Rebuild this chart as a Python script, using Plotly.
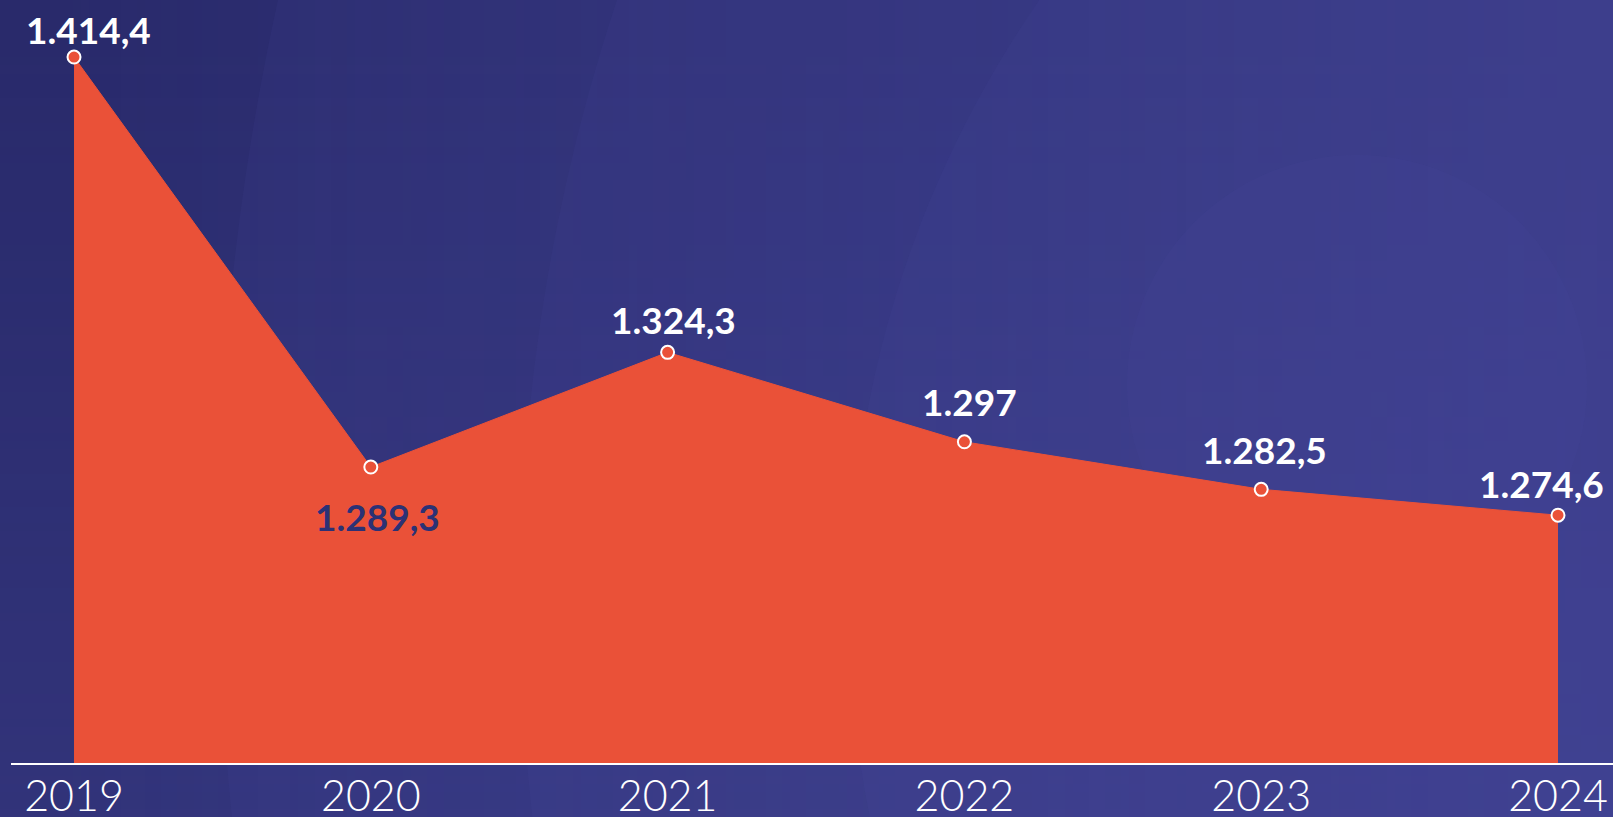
import plotly.graph_objects as go

# ---- data ----
years = [2019, 2020, 2021, 2022, 2023, 2024]
values = [1414.4, 1289.3, 1324.3, 1297.0, 1282.5, 1274.6]
value_labels = ["1.414,4", "1.289,3", "1.324,3", "1.297", "1.282,5", "1.274,6"]
year_labels = ["2019", "2020", "2021", "2022", "2023", "2024"]

# ---- style ----
W, H = 1613, 817
ML, MR, MT, MB = 11, 0, 0, 54
PW, PH = W - ML - MR, H - MT - MB
RED = "#EA5138"
NAVY_TXT = "#2B3175"

# label offsets (pixels): (xshift, yshift)
label_offsets = [(14, 28), (7, -49), (6, 33), (5, 40), (3, 40), (-17, 32)]
label_colors = ["white", NAVY_TXT, "white", "white", "white", "white"]


def px2paper(px, py):
    return (px - ML) / PW, (MT + PH - py) / PH


LIGHT = "74,77,162"
shapes = []
# vertical gradient: disjoint bands on whole-pixel boundaries
nb = 100
for i in range(nb):
    ya = round(i * H / nb)
    yb = round((i + 1) * H / nb)
    a = 0.28 * (i + 0.5) / nb
    if a < 0.02:
        continue
    x0, y0 = px2paper(0, yb)
    x1, y1 = px2paper(W, ya)
    shapes.append(dict(type="rect", xref="paper", yref="paper", x0=x0, x1=x1, y0=y0, y1=y1,
                       fillcolor=f"rgba({LIGHT},{a:.4f})", line=dict(width=0), layer="below"))
# horizontal gradient: disjoint bands on whole-pixel boundaries
nbx = 200
for i in range(nbx):
    xa = round(i * W / nbx)
    xb = round((i + 1) * W / nbx)
    a = 0.45 * (i + 0.5) / nbx
    if a < 0.02:
        continue
    x0, y0 = px2paper(xa, H)
    x1, y1 = px2paper(xb, 0)
    shapes.append(dict(type="rect", xref="paper", yref="paper", x0=x0, x1=x1, y0=y0, y1=y1,
                       fillcolor=f"rgba({LIGHT},{a:.4f})", line=dict(width=0), layer="below"))

# nested faint circles (pixel centre, radius)
circles = [(2769, 550, 2551), (2424, 600, 1904), (1915, 608, 1066), (1357, 385, 230)]
for cx, cy, r in circles:
    x0, y0 = px2paper(cx - r, cy + r)
    x1, y1 = px2paper(cx + r, cy - r)
    shapes.append(dict(type="circle", xref="paper", yref="paper", x0=x0, x1=x1, y0=y0, y1=y1,
                       fillcolor=f"rgba({LIGHT},0.10)", line=dict(width=0), layer="below"))

fig = go.Figure()
fig.add_trace(go.Scatter(
    x=years, y=values, mode="lines", fill="tozeroy",
    fillcolor=RED, line=dict(color=RED, width=1), hoverinfo="skip", showlegend=False))
fig.add_trace(go.Scatter(
    x=years, y=values, mode="markers",
    marker=dict(size=13, color=RED, line=dict(color="white", width=2)),
    showlegend=False))

annotations = []
for yr, v, txt, (dx, dy), col in zip(years, values, value_labels, label_offsets, label_colors):
    annotations.append(dict(x=yr, y=v, xref="x", yref="y", text=txt, showarrow=False,
                            xshift=dx, yshift=dy, xanchor="center", yanchor="middle",
                            font=dict(family="Lato", size=37, color=col, weight="bold")))

fig.update_layout(
    width=W, height=H,
    margin=dict(l=ML, r=MR, t=MT, b=MB, pad=0),
    paper_bgcolor="#292A6B",
    plot_bgcolor="rgba(0,0,0,0)",
    shapes=shapes,
    annotations=annotations,
    xaxis=dict(range=[2018.7877, 2024.1853], tickvals=years, ticktext=year_labels,
               showgrid=False, zeroline=False, showline=True, linecolor="white", linewidth=2,
               ticks="", ticklabelstandoff=-6,
               tickfont=dict(family="Lato", size=43, color="white", weight=300),
               automargin=False, fixedrange=True),
    yaxis=dict(range=[1199.0, 1431.8], showgrid=False, zeroline=False, showticklabels=False,
               showline=False, automargin=False, fixedrange=True),
    showlegend=False,
)

fig.write_html("out.html", config={"displayModeBar": False},
               post_script="document.body.style.margin='0';document.body.style.overflow='hidden';")
